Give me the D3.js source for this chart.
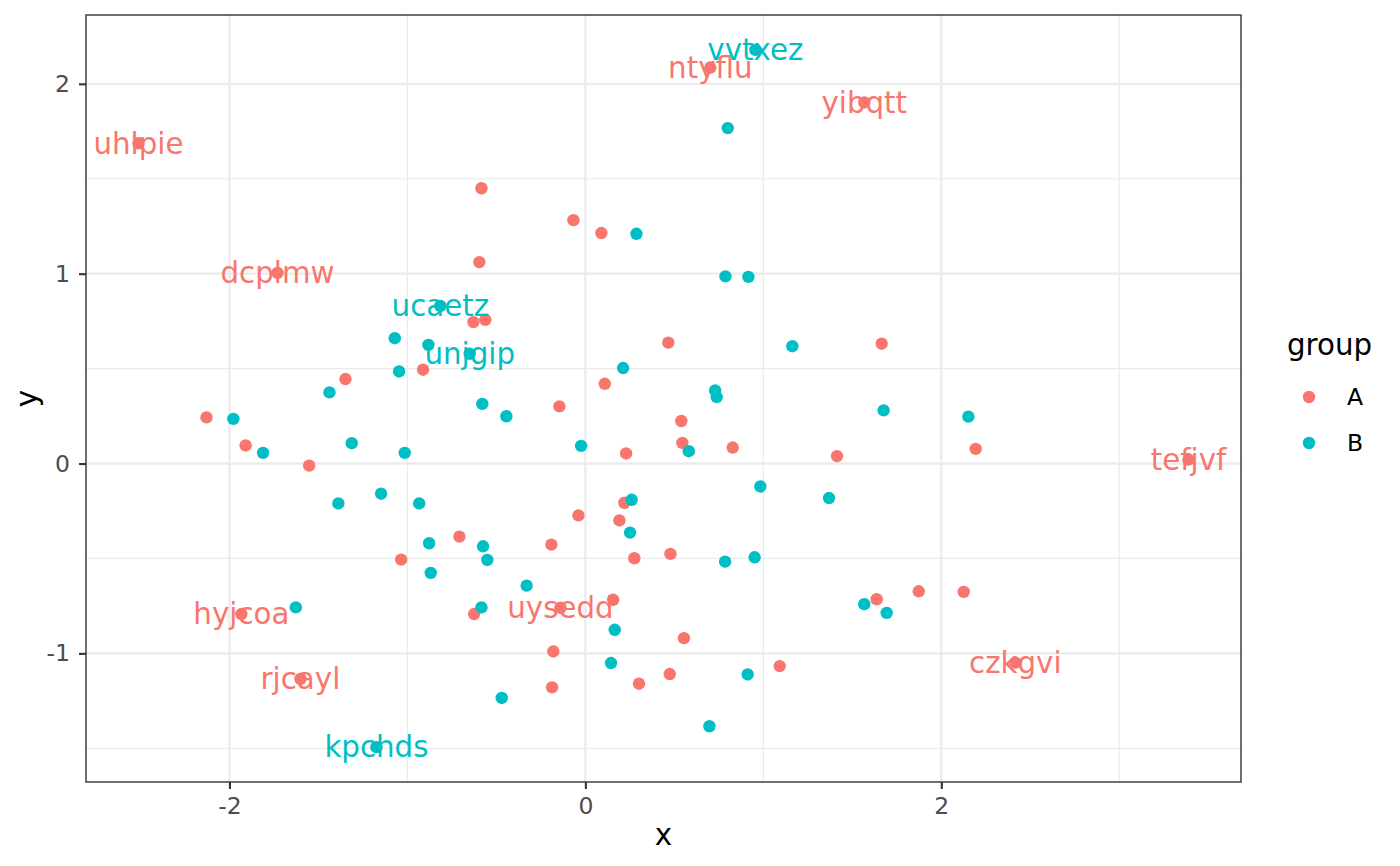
<!DOCTYPE html>
<html>
<head>
<meta charset="utf-8">
<script src="https://cdn.jsdelivr.net/npm/d3@7"></script>
<style>
  body { margin: 0; background: #fff; }
  text { font-family: "DejaVu Sans", sans-serif; }
</style>
</head>
<body>
<div id="chart"></div>
<script>
// group A points (labelled ones first)
var xA = [-2.511, -1.730, 0.702, 1.567, 3.389, 2.416, -1.933, -1.601, -0.140,
  -0.584, -0.067, 0.090, -0.596, -0.629, -0.562, 0.466, -1.348, -0.912, -2.129,
  -1.909, -1.552, 0.109, -0.146, 0.539, 0.545, 0.229, 0.828, 1.414, 1.665, 2.193,
  0.219, -0.039, 0.191, -0.708, -0.191, 0.275, 0.478, -1.035, -0.625, 0.156,
  0.554, -0.180, -0.187, 0.301, 0.474, 1.092, 1.637, 1.873, 2.126];
var yA = [1.687, 1.004, 2.086, 1.902, 0.021, -1.049, -0.793, -1.135, -0.760,
  1.450, 1.282, 1.214, 1.061, 0.745, 0.757, 0.637, 0.445, 0.494, 0.243,
  0.095, -0.011, 0.420, 0.301, 0.224, 0.109, 0.053, 0.084, 0.039, 0.631, 0.077,
  -0.207, -0.273, -0.300, -0.385, -0.427, -0.499, -0.476, -0.506, -0.793, -0.718,
  -0.920, -0.990, -1.179, -1.160, -1.109, -1.067, -0.715, -0.673, -0.676];
var labelsA = ['uhlpie', 'dcplmw', 'ntyflu', 'yibqtt', 'tefjvf', 'czkgvi', 'hyjcoa', 'rjcayl', 'uysedd'];

// group B points
var xB = [0.955, -0.815, -0.650, -1.174,
  0.800, 0.287, 0.787, 0.916, -1.071, -0.882, 1.163, -1.047, 0.212, -1.438,
  -1.978, -1.811, -1.313, -1.015, -0.579, -0.444, -0.024, 0.729, 0.738, 0.581,
  1.676, 2.152, -1.388, -1.148, -0.934, -0.878, -0.575, -0.551, -0.869, -0.330,
  -1.627, -0.584, -0.470, 0.260, 0.251, 0.785, 0.951, 0.983, 1.369, 0.165,
  0.144, 0.912, 0.697, 1.567, 1.693];
var yB = [2.179, 0.830, 0.578, -1.494,
  1.767, 1.210, 0.986, 0.983, 0.660, 0.625, 0.618, 0.485, 0.503, 0.375,
  0.235, 0.056, 0.107, 0.056, 0.314, 0.249, 0.093, 0.385, 0.350, 0.065,
  0.280, 0.247, -0.210, -0.159, -0.210, -0.420, -0.436, -0.508, -0.576, -0.643,
  -0.758, -0.758, -1.235, -0.191, -0.364, -0.517, -0.494, -0.121, -0.182, -0.876,
  -1.051, -1.111, -1.384, -0.741, -0.787];
var labelsB = ['vvtxez', 'ucaetz', 'unjgip', 'kpchds'];

var groups = ['A', 'B'];
var colors = ['#F8766D', '#00BFC4'];
var xTicks = [-2, 0, 2];
var yTicks = [-1, 0, 1, 2];
var xMinor = [-3, -1, 1, 3];
var yMinor = [-1.5, -0.5, 0.5, 1.5];

var points = [];
xA.forEach(function(v, i) { points.push({x: v, y: yA[i], g: 'A', label: labelsA[i] || ''}); });
xB.forEach(function(v, i) { points.push({x: v, y: yB[i], g: 'B', label: labelsB[i] || ''}); });

var W = 1400, H = 866;
var m = {top: 15, right: 159, bottom: 84, left: 86};
var w = W - m.left - m.right, h = H - m.top - m.bottom;

function expand(ext) {
    var d = (ext[1] - ext[0]) * 0.05;
    return [ext[0] - d, ext[1] + d];
}

var x = d3.scaleLinear().domain(expand(d3.extent(points, function(d){ return d.x; }))).range([0, w]);
var y = d3.scaleLinear().domain(expand(d3.extent(points, function(d){ return d.y; }))).range([h, 0]);
var color = d3.scaleOrdinal().domain(groups).range(colors);

var svg = d3.select('#chart').append('svg')
    .attr('width', W)
    .attr('height', H);

var g = svg.append('g')
    .attr('transform', 'translate(' + m.left + ',' + m.top + ')');

// grid
g.selectAll('.vminor').data(xMinor.filter(function(v){ return x(v) > 0 && x(v) < w; }))
    .enter().append('line')
    .attr('x1', x).attr('x2', x).attr('y1', 0).attr('y2', h)
    .attr('stroke', '#EBEBEB').attr('stroke-width', 1.2);
g.selectAll('.hminor').data(yMinor)
    .enter().append('line')
    .attr('y1', y).attr('y2', y).attr('x1', 0).attr('x2', w)
    .attr('stroke', '#EBEBEB').attr('stroke-width', 1.2);
g.selectAll('.vmajor').data(xTicks)
    .enter().append('line')
    .attr('x1', x).attr('x2', x).attr('y1', 0).attr('y2', h)
    .attr('stroke', '#EBEBEB').attr('stroke-width', 2.3);
g.selectAll('.hmajor').data(yTicks)
    .enter().append('line')
    .attr('y1', y).attr('y2', y).attr('x1', 0).attr('x2', w)
    .attr('stroke', '#EBEBEB').attr('stroke-width', 2.3);

// points
g.selectAll('circle.pt').data(points)
    .enter().append('circle')
    .attr('class', 'pt')
    .attr('cx', function(d){ return x(d.x); })
    .attr('cy', function(d){ return y(d.y); })
    .attr('r', 6.2)
    .attr('fill', function(d){ return color(d.g); });

// labels
g.selectAll('text.lab').data(points.filter(function(d){ return d.label; }))
    .enter().append('text')
    .attr('class', 'lab')
    .attr('x', function(d){ return x(d.x); })
    .attr('y', function(d){ return y(d.y); })
    .attr('dy', '0.35em')
    .attr('text-anchor', 'middle')
    .attr('font-size', 29.3)
    .attr('fill', function(d){ return color(d.g); })
    .text(function(d){ return d.label; });

// panel border
g.append('rect')
    .attr('width', w).attr('height', h)
    .attr('fill', 'none').attr('stroke', '#333333').attr('stroke-width', 1.4);

// axes
var fmt = function(d){ return String(d); };
var xAxis = g.append('g')
    .attr('transform', 'translate(0,' + h + ')')
    .call(d3.axisBottom(x).tickValues(xTicks).tickFormat(fmt).tickSize(7).tickPadding(8));
var yAxis = g.append('g')
    .call(d3.axisLeft(y).tickValues(yTicks).tickFormat(fmt).tickSize(7).tickPadding(9));
[xAxis, yAxis].forEach(function(a) {
    a.select('.domain').remove();
    a.selectAll('line').attr('stroke', '#333333').attr('stroke-width', 2.1);
    a.selectAll('text').attr('fill', '#4D4D4D').attr('font-size', 23.5)
        .attr('font-family', '"DejaVu Sans", sans-serif');
});

// axis titles
svg.append('text')
    .attr('x', m.left + w / 2).attr('y', 845)
    .attr('text-anchor', 'middle').attr('font-size', 29.3)
    .text('x');
svg.append('text')
    .attr('transform', 'translate(37,' + (m.top + h / 2) + ') rotate(-90)')
    .attr('text-anchor', 'middle').attr('font-size', 29.3)
    .text('y');

// legend
var leg = svg.append('g').attr('transform', 'translate(1287,0)');
leg.append('text').attr('x', 0).attr('y', 355).attr('font-size', 29.3).text('group');
var items = leg.selectAll('.item').data(groups).enter().append('g')
    .attr('transform', function(d, i){ return 'translate(0,' + (397 + i * 46) + ')'; });
items.append('circle').attr('cx', 22).attr('cy', 0).attr('r', 6.2)
    .attr('fill', function(d){ return color(d); });
items.append('text').attr('x', 60).attr('y', 0).attr('dy', '0.35em')
    .attr('font-size', 23.5).text(function(d){ return d; });
</script>
</body>
</html>
